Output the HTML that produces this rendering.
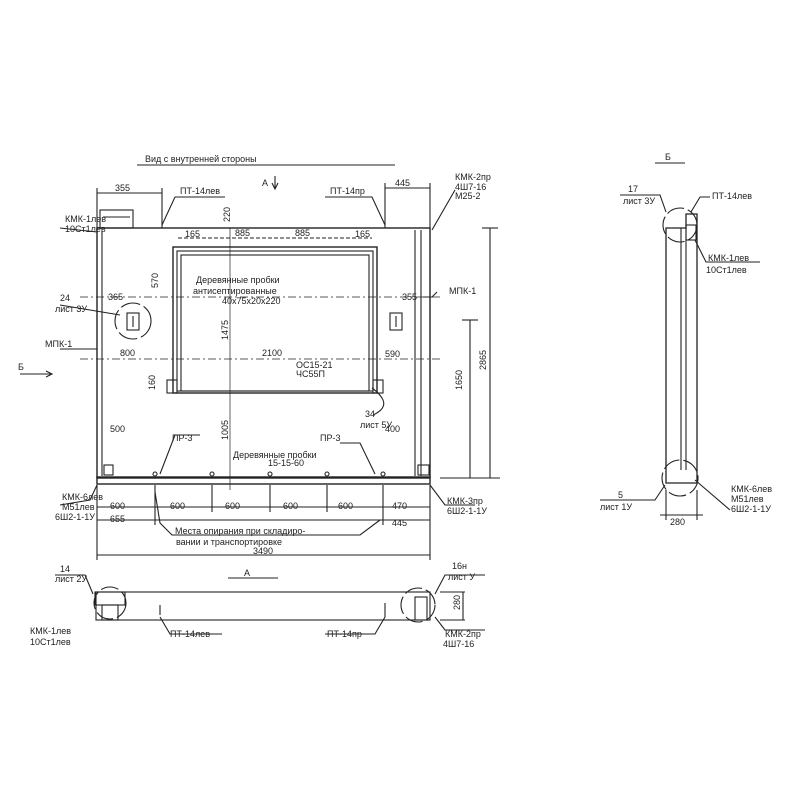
<!DOCTYPE html>
<html><head><meta charset="utf-8"><style>
html,body{margin:0;padding:0;background:#fff}
svg{display:block}
text{font-family:"Liberation Sans","DejaVu Sans",sans-serif;fill:#222;font-size:9px}
</style></head><body>
<svg width="800" height="800" viewBox="0 0 800 800" xmlns="http://www.w3.org/2000/svg">
<g stroke="#222" fill="none" stroke-width="1.1">
<line x1="137" y1="165" x2="395" y2="165"/>
<line x1="275" y1="176" x2="275" y2="188"/><path d="M272,183 L275,189 L278,183"/>
<rect x="97" y="228" width="333" height="250" stroke-width="1.4"/>
<rect x="97" y="477" width="333" height="7" stroke-width="1.4"/>
<line x1="102" y1="231" x2="102" y2="476"/>
<line x1="415" y1="230" x2="415" y2="476"/>
<line x1="421" y1="230" x2="421" y2="476"/>
<rect x="100" y="210" width="33" height="18"/>
<line x1="103" y1="217" x2="130" y2="217"/>
<rect x="173" y="247" width="204" height="146" stroke-width="1.4"/>
<rect x="177" y="251" width="196" height="140"/>
<rect x="181" y="255" width="188" height="136"/>
<rect x="167" y="380" width="10" height="13"/><rect x="373" y="380" width="10" height="13"/>
<rect x="127" y="313" width="12" height="17"/><rect x="390" y="313" width="12" height="17"/>
<line x1="133" y1="316" x2="133" y2="327"/><line x1="396" y1="316" x2="396" y2="327"/>
<circle cx="133" cy="321" r="18" stroke-dasharray="20,4"/>
<line x1="80" y1="359" x2="440" y2="359" stroke-dasharray="8,3,2,3" stroke-width="0.7"/>
<line x1="230" y1="228" x2="230" y2="490" stroke-width="0.7"/>
<line x1="80" y1="297" x2="440" y2="297" stroke-dasharray="8,3,2,3" stroke-width="0.7"/>
<line x1="97" y1="193" x2="162" y2="193"/><line x1="97" y1="188" x2="97" y2="228"/><line x1="162" y1="188" x2="162" y2="228"/>
<line x1="385" y1="188" x2="430" y2="188"/><line x1="385" y1="183" x2="385" y2="228"/><line x1="430" y1="183" x2="430" y2="228"/>
<line x1="178" y1="238" x2="372" y2="238" stroke-dasharray="4,2"/>
<path d="M162,225 L175,197 L225,197"/><path d="M385,225 L372,197 L325,197"/>
<path d="M432,230 L455,190"/><path d="M423,297 L432,297 L437,292"/>
<line x1="470" y1="320" x2="470" y2="478"/><line x1="462" y1="320" x2="478" y2="320"/>
<line x1="490" y1="228" x2="490" y2="478"/><line x1="482" y1="228" x2="498" y2="228"/>
<line x1="440" y1="478" x2="500" y2="478"/>
<circle cx="155" cy="474" r="2"/><circle cx="212" cy="474" r="2"/><circle cx="270" cy="474" r="2"/><circle cx="327" cy="474" r="2"/><circle cx="383" cy="474" r="2"/>
<rect x="104" y="465" width="9" height="10"/><rect x="418" y="465" width="11" height="10"/>
<path d="M160,474 L175,435 L200,435"/><path d="M375,474 L360,443 L340,443"/>
<path d="M372,388 Q395,405 373,415"/>
<line x1="97" y1="485" x2="97" y2="560"/><line x1="430" y1="485" x2="430" y2="560"/>
<line x1="97" y1="507" x2="430" y2="507"/>
<line x1="97" y1="520" x2="430" y2="520"/>
<line x1="97" y1="555" x2="430" y2="555"/>
<line x1="155" y1="485" x2="155" y2="525"/><line x1="212" y1="485" x2="212" y2="512"/><line x1="270" y1="485" x2="270" y2="512"/><line x1="327" y1="485" x2="327" y2="512"/><line x1="383" y1="485" x2="383" y2="525"/>
<path d="M155,492 L160,523 L172,535 L360,535 L380,520"/>
<path d="M97,485 L90,500 L60,505"/><path d="M430,485 L445,505 L475,505"/>
<path d="M60,228 L97,232"/><path d="M60,305 L120,315"/><path d="M60,349 L97,349"/>
<line x1="20" y1="374" x2="52" y2="374"/><path d="M46,371 L52,374 L46,377"/>
<line x1="228" y1="578" x2="278" y2="578"/>
<rect x="96" y="592" width="334" height="28"/>
<rect x="95" y="592" width="30" height="13"/><rect x="102" y="605" width="16" height="15"/>
<circle cx="110" cy="603" r="16" stroke-dasharray="18,4"/>
<rect x="415" y="597" width="12" height="23"/>
<circle cx="418" cy="605" r="17" stroke-dasharray="18,4"/>
<line x1="160" y1="605" x2="160" y2="615"/><line x1="385" y1="603" x2="385" y2="617"/>
<path d="M160,617 L170,634 L222,634"/><path d="M385,617 L375,634 L325,634"/>
<path d="M93,594 L85,575 L55,575"/><path d="M435,594 L445,575 L485,575"/>
<path d="M435,617 L445,630 L485,630"/><path d="M440,592 L465,592 M440,620 L465,620 M463,592 L463,620"/>
<line x1="655" y1="163" x2="685" y2="163"/>
<path d="M666,228 L666,483 L697,483 L697,214 L686,214 L686,228 Z" stroke-width="1.3"/>
<line x1="681" y1="228" x2="681" y2="470"/><line x1="686" y1="228" x2="686" y2="470"/>
<rect x="686" y="225" width="10" height="15"/>
<circle cx="680" cy="225" r="17" stroke-dasharray="18,4"/>
<circle cx="680" cy="478" r="18" stroke-dasharray="18,4"/>
<path d="M666,212 L660,195 L620,195"/><path d="M691,212 L700,197 L710,197"/>
<path d="M695,240 L706,262 L760,262"/><path d="M665,485 L655,500 L600,500"/>
<path d="M695,480 L730,510"/>
<line x1="666" y1="490" x2="666" y2="520"/><line x1="697" y1="490" x2="697" y2="520"/><line x1="660" y1="515" x2="703" y2="515"/>
</g>
<text x="145" y="162" font-size="10">Вид  с  внутренней  стороны</text>
<text x="262" y="186" font-size="10">А</text>
<text x="115" y="191">355</text><text x="395" y="186">445</text>
<text x="180" y="194">ПТ-14лев</text><text x="330" y="194">ПТ-14пр</text>
<text x="455" y="180">КМК-2пр</text><text x="455" y="190">4Ш7-16</text><text x="455" y="199">М25-2</text>
<text x="65" y="222">КМК-1лев</text><text x="65" y="232">10Ст1лев</text>
<text x="185" y="237">165</text><text x="235" y="236">885</text><text x="295" y="236">885</text><text x="355" y="237">165</text>
<text x="196" y="283" font-size="10">Деревянные пробки</text>
<text x="193" y="294">антисептированные</text><text x="222" y="304">40х75х20х220</text>
<text x="60" y="301">24</text><text x="55" y="312">лист 3У</text>
<text x="108" y="300">365</text><text x="402" y="300">355</text>
<text x="449" y="294">МПК-1</text><text x="45" y="347">МПК-1</text>
<text x="120" y="356">800</text><text x="262" y="356">2100</text><text x="385" y="357">590</text>
<text x="296" y="368">ОС15-21</text><text x="296" y="377">ЧС55П</text>
<text x="18" y="370" font-size="10">Б</text>
<text x="365" y="417">34</text><text x="360" y="428">лист 5У</text>
<text x="110" y="432">500</text><text x="385" y="432">400</text>
<text x="172" y="441">ПР-3</text><text x="320" y="441">ПР-3</text>
<text x="233" y="458">Деревянные пробки</text><text x="268" y="466">15-15-60</text>
<text x="62" y="500">КМК-6лев</text><text x="62" y="510">М51лев</text><text x="55" y="520">6Ш2-1-1У</text>
<text x="447" y="504">КМК-3пр</text><text x="447" y="514">6Ш2-1-1У</text>
<text x="110" y="509">600</text><text x="170" y="509">600</text><text x="225" y="509">600</text><text x="283" y="509">600</text><text x="338" y="509">600</text><text x="392" y="509">470</text>
<text x="110" y="522">655</text><text x="392" y="526">445</text>
<text x="175" y="534" font-size="10">Места опирания при складиро-</text>
<text x="176" y="545">вании и транспортировке</text>
<text x="253" y="554">3490</text>
<text x="244" y="576" font-size="10">А</text>
<text x="60" y="572">14</text><text x="55" y="582">лист 2У</text>
<text x="452" y="569">16н</text><text x="448" y="580">лист  У</text>
<text x="30" y="634">КМК-1лев</text><text x="30" y="645">10Ст1лев</text>
<text x="170" y="637">ПТ-14лев</text><text x="327" y="637">ПТ-14пр</text>
<text x="445" y="637">КМК-2пр</text><text x="443" y="647">4Ш7-16</text>
<text x="665" y="160" font-size="10">Б</text>
<text x="628" y="192">17</text><text x="623" y="204">лист 3У</text>
<text x="712" y="199">ПТ-14лев</text>
<text x="708" y="261">КМК-1лев</text><text x="706" y="273">10Ст1лев</text>
<text x="618" y="498">5</text><text x="600" y="510">лист 1У</text>
<text x="731" y="492">КМК-6лев</text><text x="731" y="502">М51лев</text><text x="731" y="512">6Ш2-1-1У</text>
<text x="670" y="525">280</text>
<g font-size="9">
<text transform="translate(230,222) rotate(-90)">220</text>
<text transform="translate(158,288) rotate(-90)">570</text>
<text transform="translate(228,340) rotate(-90)">1475</text>
<text transform="translate(228,440) rotate(-90)">1005</text>
<text transform="translate(462,390) rotate(-90)">1650</text>
<text transform="translate(486,370) rotate(-90)">2865</text>
<text transform="translate(155,390) rotate(-90)">160</text>
<text transform="translate(460,610) rotate(-90)">280</text>
</g>
</svg>
</body></html>
